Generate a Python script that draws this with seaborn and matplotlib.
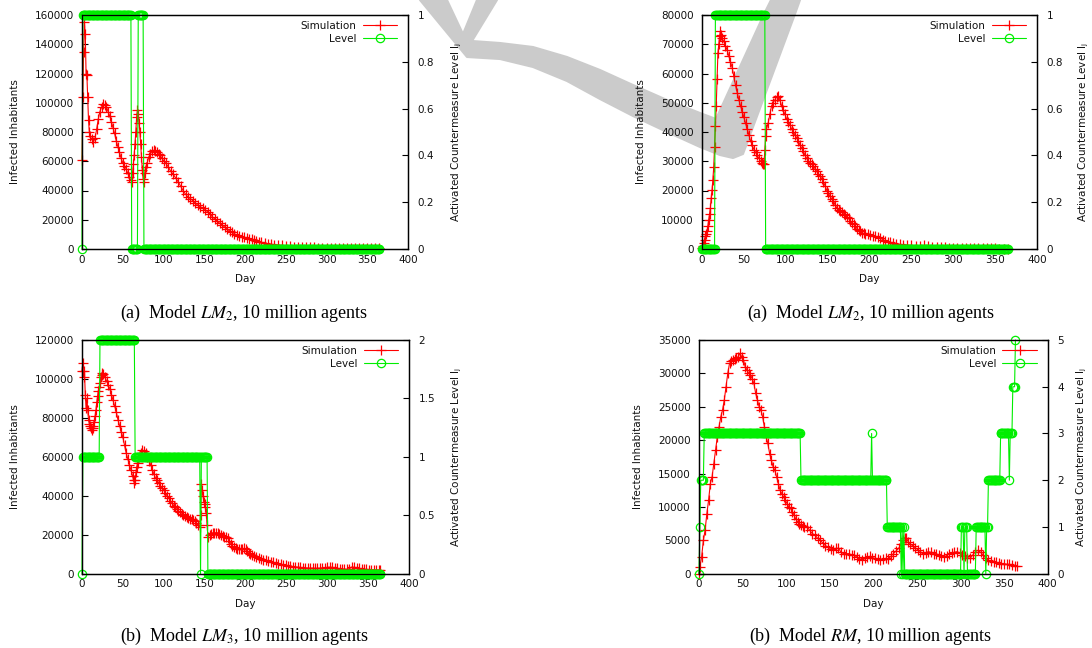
import numpy as np
import matplotlib
matplotlib.use("Agg")
import matplotlib.pyplot as plt
import seaborn as sns
from matplotlib.patches import Polygon
from matplotlib.ticker import MultipleLocator, FormatStrFormatter

# ---------------- data ----------------
# Panel (a) left: Model LM2
p1_days = [0,1,2,3,4,5,6,7,8,9,10,12,14,16,18,20,22,24,26,28,30,32,34,36,38,40,42,44,46,48,50,52,54,56,58,60,
           61,62,63,64,65,66,67,68,69,70,71,72,73,74,75,76,77,78,80,82,84,86,88,90,92,94,96,98,100,103,106,109,
           112,115,118,121,124,127,130,133,136,139,142,145,148,151,154,157,160,163,166,169,172,175,178,181,184,
           187,190,193,196,199,202,205,208,211,214,217,220,224,228,232,236,240,245,250,255,260,265,270,275,280,
           285,290,295,300,305,310,315,320,325,330,335,340,345,350,355,360,365]
p1_inf_k = [61,104,135,155,147,120,119,104,88,80,77,75,73,76,82,89,94,97,99,98.5,97,94,91,87,83,79,74,70,66,62,59,
            57,55,52,49,47,46,52,58,64,72,80,90,95,92,86,80,72,63,54,48,46,52,56,59,63,65,67,67.5,67,66,65,64,62,
            60.5,58.5,56,53,51,48.5,46,43,40,37.5,35.5,34.5,33,31.5,30,29,28,27,25.5,24,22,20.5,19,17.5,16.5,15,
            13.5,12.5,11.5,10.5,9.5,9,8.5,8,7.5,7,6.5,6,5.5,5,4.5,4,3.5,3.2,3,2.7,2.4,2.1,1.9,1.7,1.5,1.4,1.3,
            1.2,1.1,1.0,0.9,0.8,0.75,0.7,0.65,0.6,0.55,0.5,0.5,0.45,0.45,0.4,0.4,0.35,0.35]
p1_level_vals = [0, 1, 0, 1, 0]
p1_level_runs = [1, 60, 8, 7, 290]

# Panel (a) right: Model LM2
p2_days = [0,1,2,3,4,5,6,7,8,9,10,11,12,13,14,15,16,17,18,19,20,21,22,23,24,26,28,30,32,34,36,38,40,42,44,46,48,
           50,52,54,56,58,60,62,64,66,68,70,72,73,74,75,76,77,79,81,83,85,87,89,91,93,95,97,99,101,103,105,107,
           109,111,113,115,117,119,121,123,125,127,129,131,133,135,137,139,141,143,145,147,149,151,153,155,157,
           159,161,163,165,167,169,171,173,175,177,179,181,183,185,187,189,191,193,195,198,201,204,207,210,213,
           216,219,222,225,228,232,236,240,245,250,255,260,265,270,275,280,285,290,295,300,305,310,315,320,325,
           330,335,340,345,350,355,360,365]
p2_inf_k = [0.3,1,2,3.2,4.5,5,6,8,10,12,14,17.5,20.3,23.7,28,35,42,49,58,67,70,72.8,74.5,73,72,71,69.5,68,66,64,62,
            59,56,53.5,51,49,47,45,43,41,39,37,35.5,34,33,32,31,30,29.5,29,29,34,38.6,41,43.1,46,48.9,50,51,52,
            52.3,51,49,47.5,46,44.5,43.5,42.5,41,40,39,38,37,35.5,34.5,33.5,32,31,30,29.5,29,28.3,27.5,26.5,25.5,
            25,24,23,21.5,20,19,18,17,16.5,15,14,13.5,13,12.5,12,11.5,11,10.5,9.5,9,8.5,8,7,6.5,6,5.5,5.3,5,5,
            4.8,4.6,4.3,4,3.7,3.2,2.8,2.5,2.3,2,1.8,1.6,1.5,1.3,1.2,1.1,1.1,1.2,1.0,0.8,0.7,0.65,0.6,0.5,0.45,
            0.4,0.35,0.3,0.3,0.28,0.25,0.23,0.22,0.2,0.18,0.15,0.12,0.1]
p2_level_vals = [0, 1, 0]
p2_level_runs = [16, 60, 290]

# Panel (b) left: Model LM3
p3_days = [0,1,2,3,4,5,6,7,8,9,10,11,12,13,14,15,16,17,18,19,20,21,22,23,24,25,26,28,30,32,34,36,38,40,42,44,46,
           48,50,52,54,56,58,60,62,63,64,65,66,67,68,70,72,74,76,78,80,82,84,86,88,90,92,94,96,98,100,102,104,106,
           108,110,112,114,116,118,120,122,124,126,128,130,132,134,136,138,140,142,144,145,146,147,148,149,150,
           151,152,153,154,156,158,160,162,164,166,168,170,172,174,176,178,180,182,184,186,188,190,192,194,196,
           198,200,202,204,206,208,210,213,216,219,222,225,228,231,234,237,240,243,246,249,252,255,258,261,264,
           267,270,273,276,279,282,285,288,291,294,297,300,303,306,309,312,315,318,321,324,327,330,333,336,339,
           342,345,348,351,354,357,360,363,365]
p3_inf_k = [104,108,101,104,92,85,90,84,79,77,76,75,74,75,76,78,81,84,88,91,94,96,98,101,102,103,102.5,101,99,97,
            95,92,89,86,83,79,76,73,70,66,62,59,56,53,50,48,46.5,48,52,55,57,60,62,63.5,63,62,60,58,56,53.5,51,49,
            48,46.5,45,44,43,41.5,40,39,37.5,36.5,35,34,33,32,31.5,30.5,30,29.5,29,28.5,28,28,27.5,27,26,25,24,
            30,46,43,40,37,36,34,31,25,19,20,20.5,21,21,21,21,20.5,20,19.5,19,19,18.5,17,15.5,14,13.5,13,12.5,
            12.5,12.5,12.5,13,12.5,11.5,10.5,10,9.5,9,8.5,8,7.5,7.2,7,6.5,6,5.8,5.5,5.2,4.8,4.5,4.3,4,3.8,3.6,
            3.5,3.3,3.2,3,3,2.9,2.8,2.8,2.7,2.7,2.8,3,3,3.2,3.3,3.2,3,2.8,2.6,2.5,2.3,2.2,2.6,3.4,3.3,3,2.7,2.5,
            2.3,2.2,2.1,2,2,1.9,1.9,1.8]
p3_level_vals = [0, 1, 2, 1, 0, 1, 0]
p3_level_runs = [1, 21, 43, 80, 1, 8, 212]

# Panel (b) right: Model RM
p4_days = [0,1,3,5,7,9,11,13,15,17,19,21,23,25,27,29,31,33,35,37,39,41,43,45,47,49,51,53,55,57,59,61,63,65,67,69,
           71,73,75,77,79,81,83,85,87,89,91,93,95,97,99,101,103,105,107,109,111,113,115,117,119,121,124,127,130,
           133,136,139,142,145,148,151,154,157,160,163,166,169,172,175,178,181,184,187,190,193,196,199,202,205,
           208,211,214,217,220,223,226,229,232,234,236,238,240,242,245,248,251,254,257,260,263,266,269,272,275,
           278,281,284,287,290,293,296,299,302,305,308,311,314,317,320,323,326,329,332,335,338,341,344,347,350,
           353,356,359,362,365]
p4_inf_k = [0,1,2.5,5,6.5,9,11,13.5,14.5,16.5,18.5,20.5,22,23.5,24.5,26,28,30,31.5,31.8,32,32.2,32.3,32.5,33,32.5,
            32,31,30.5,30,29.8,29.2,28.5,27,26,25,24.5,23.5,22,20.5,19.5,18,17,16,15.5,14.5,13.5,12.5,12,11.5,11,
            10.5,10,9.8,9.3,8.8,8.2,7.8,7.5,7.3,7.2,7,7,6.5,6,5.8,5.3,5,4.6,4.2,4,3.7,3.5,3.8,3.8,3.2,3,3,3,2.8,
            2.8,2.5,2.2,2.1,2.3,2.5,2.6,2.4,2.3,2.2,2.1,2.2,2.3,2.2,2.6,3,3.4,3.8,4.5,5,5.4,5.3,4.8,4.5,4.2,3.9,
            3.6,3.3,3,3.1,3.3,3.2,3,3,2.8,2.6,2.5,2.7,3,3.1,3.2,3.3,3.1,2.8,2.6,2.4,2.3,2.8,3.3,3.5,3.2,2.8,2.3,
            2,1.9,1.8,1.7,1.6,1.5,1.5,1.4,1.4,1.3,1.2,1.1]
p4_level_vals = [0, 1, 2, 3, 2, 3, 2, 1, 0, 1, 0, 1, 0, 1, 0, 1, 0, 1, 0, 1, 2, 3, 2, 3, 4, 5]
p4_level_runs = [1, 1, 4, 111, 81, 1, 17, 16, 1, 1, 1, 1, 65, 3, 1, 3, 10, 11, 1, 2, 14, 10, 1, 3, 3, 1]

captions = [r"(a)  Model $\mathit{LM}_2$, 10 million agents",
            r"(a)  Model $\mathit{LM}_2$, 10 million agents",
            r"(b)  Model $\mathit{LM}_3$, 10 million agents",
            r"(b)  Model $\mathit{RM}$, 10 million agents"]

# ---------------- style ----------------
sns.set_theme(style="white")
plt.rcParams.update({
    "font.family": ["DejaVu Sans"],
    "mathtext.fontset": "stix",
    "axes.edgecolor": "black",
    "axes.linewidth": 0.9,
    "xtick.color": "black",
    "ytick.color": "black",
    "text.color": "#111111",
    "axes.labelcolor": "#111111",
    "xtick.labelcolor": "#111111",
    "ytick.labelcolor": "#111111",
})

W, H = 1092, 648
fig = plt.figure(figsize=(W / 100, H / 100), dpi=100)
fig.patch.set_facecolor("white")

# background watermark shape (light grey stroke), pixel outline
wm = [(420, 0), (447, 0), (463, 34), (477, 0), (497, 0), (472, 41), (500, 43), (533, 47), (567, 57), (600, 70),
      (633, 85), (667, 100), (700, 113), (716, 119), (765, 12), (771, 0), (800, 0), (795, 14), (743, 154),
      (733, 158), (720, 155), (700, 147), (667, 132), (633, 116), (600, 99), (567, 81), (533, 67), (500, 59),
      (467, 57)]
fig.add_artist(Polygon([(x / W, 1 - y / H) for x, y in wm], closed=True, transform=fig.transFigure,
                       facecolor="#cbcbcb", edgecolor="#cbcbcb", linewidth=1.5, joinstyle="round",
                       zorder=-10))

RED = "#ff0000"
GREEN = "#00ee00"
FS = 7.5

panels = [
    dict(rect=(82, 15, 408, 249), days=p1_days, inf=p1_inf_k, lv=p1_level_vals, lr=p1_level_runs,
         ymax=160000, ystep=20000, lmax=1, lstep=0.2, ylx=15, yrx=457, xly=279, cap=(244, 313)),
    dict(rect=(702, 15, 1037, 249), days=p2_days, inf=p2_inf_k, lv=p2_level_vals, lr=p2_level_runs,
         ymax=80000, ystep=10000, lmax=1, lstep=0.2, ylx=641, yrx=1084, xly=279, cap=(871, 313)),
    dict(rect=(82, 340, 409, 573.7), days=p3_days, inf=p3_inf_k, lv=p3_level_vals, lr=p3_level_runs,
         ymax=120000, ystep=20000, lmax=2, lstep=0.5, ylx=15, yrx=457, xly=604, cap=(244, 636)),
    dict(rect=(699, 340, 1047.7, 573.7), days=p4_days, inf=p4_inf_k, lv=p4_level_vals, lr=p4_level_runs,
         ymax=35000, ystep=5000, lmax=5, lstep=1, ylx=638, yrx=1082, xly=604, cap=(870, 636)),
]

for i, p in enumerate(panels):
    x0, y0, x1, y1 = p["rect"]
    wpx, hpx = x1 - x0, y1 - y0
    ax = fig.add_axes([x0 / W, 1 - y1 / H, wpx / W, hpx / H])
    ax.patch.set_visible(False)
    ax2 = ax.twinx()
    ax2.patch.set_visible(False)

    infected = np.array(p["inf"]) * 1000.0
    sns.lineplot(x=p["days"], y=infected, ax=ax, estimator=None, sort=False, legend=False,
                 color=RED, linewidth=0.8)
    ln_sim = ax.lines[-1]
    ln_sim.set_marker("+")
    ln_sim.set_markersize(6.5)
    ln_sim.set_markeredgewidth(0.9)
    ln_sim.set_markeredgecolor(RED)
    ln_sim.set_color(RED)
    ln_sim.set_clip_on(False)

    levels = np.repeat(p["lv"], p["lr"])
    ldays = np.arange(len(levels))
    sns.lineplot(x=ldays, y=levels, ax=ax2, estimator=None, sort=False, legend=False,
                 color=GREEN, linewidth=0.8)
    ln_lvl = ax2.lines[-1]
    ln_lvl.set_marker("o")
    ln_lvl.set_markersize(6)
    ln_lvl.set_markeredgewidth(0.9)
    ln_lvl.set_markeredgecolor(GREEN)
    ln_lvl.set_markerfacecolor("none")
    ln_lvl.set_color(GREEN)
    ln_lvl.set_clip_on(False)

    ax.set_xlim(0, 400)
    ax.set_ylim(0, p["ymax"])
    ax2.set_ylim(0, p["lmax"])
    ax.xaxis.set_major_locator(MultipleLocator(50))
    ax.xaxis.set_minor_locator(MultipleLocator(5))
    ax.yaxis.set_major_locator(MultipleLocator(p["ystep"]))
    ax2.yaxis.set_major_locator(MultipleLocator(p["lstep"]))
    ax2.yaxis.set_major_formatter(FormatStrFormatter("%g"))
    ax.yaxis.set_major_formatter(FormatStrFormatter("%d"))

    ax.tick_params(axis="x", which="major", direction="in", length=4, width=0.8, top=False,
                   labelsize=FS, pad=4)
    ax.tick_params(axis="x", which="minor", direction="in", length=2, width=0.7, top=False)
    ax.tick_params(axis="y", which="major", direction="in", length=4, width=0.8, right=False,
                   labelsize=FS, pad=6)
    ax2.tick_params(axis="y", which="major", direction="in", length=4, width=0.8, left=False,
                    labelsize=FS, pad=7)
    for s in ax.spines.values():
        s.set_color("black")
        s.set_linewidth(0.9)

    ax.set_xlabel("Day", fontsize=FS)
    ax.set_ylabel("Infected Inhabitants", fontsize=FS)
    ax2.set_ylabel(r"Activated Countermeasure Level l$_\mathregular{j}$", fontsize=FS)
    ax.xaxis.set_label_coords(0.5, -(p["xly"] - y1) / hpx)
    ax.yaxis.set_label_coords((p["ylx"] - x0) / wpx, 0.5)
    ax2.yaxis.set_label_coords((p["yrx"] - x0) / wpx, 0.5)
    ax.yaxis.label.set_va("center")
    ax2.yaxis.label.set_va("center")
    ax.xaxis.label.set_va("center")

    ax2.legend([ln_sim, ln_lvl], ["Simulation", "Level"], loc="upper right",
               bbox_to_anchor=((x1 - 11) / W, 1 - (y0 + 6) / H), bbox_transform=fig.transFigure,
               frameon=False, markerfirst=False, handlelength=3.3, handletextpad=0.6,
               borderpad=0, borderaxespad=0, labelspacing=0.25, fontsize=FS, numpoints=1)

    cx, cy = p["cap"]
    fig.text(cx / W, 1 - cy / H, captions[i], ha="center", va="center", fontsize=13,
             family="Liberation Serif", color="black")

fig.savefig("out.png", dpi=100)
